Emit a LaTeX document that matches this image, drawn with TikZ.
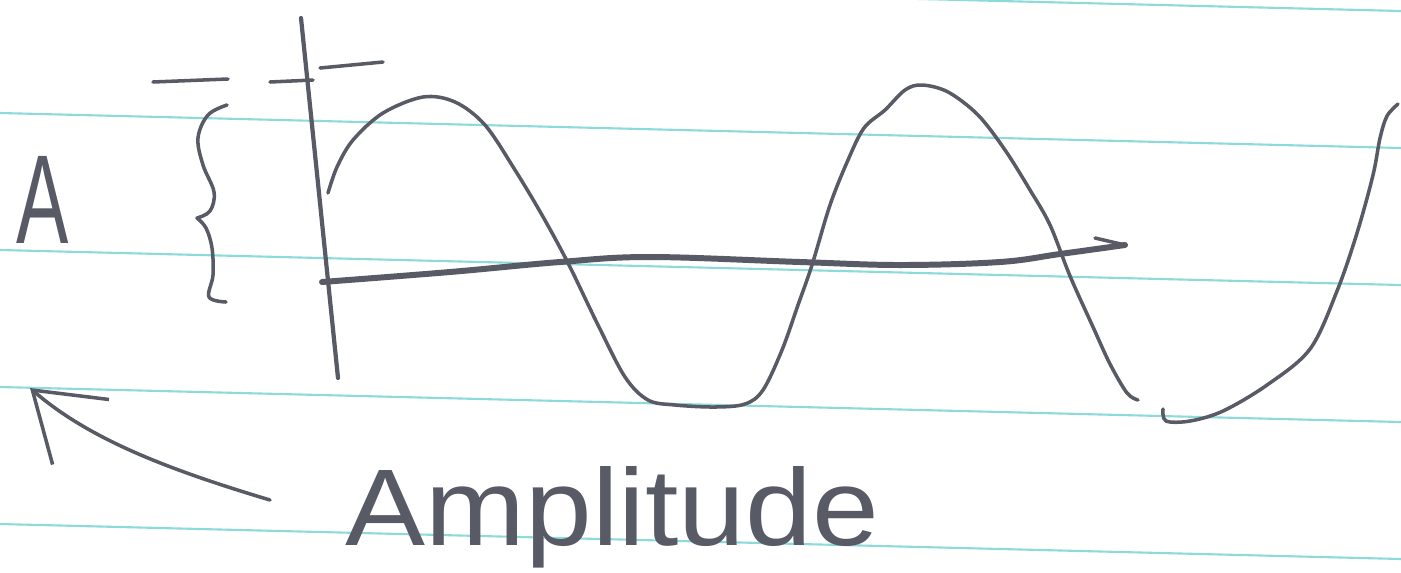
\documentclass[tikz,border=0pt]{standalone}
\usepackage{fontspec}
\setmainfont{Liberation Sans}
\usetikzlibrary{arrows.meta,positioning}
\definecolor{ink}{RGB}{88,90,102}
\definecolor{rule}{RGB}{140,218,218}

\begin{document}
\begin{tikzpicture}[
    x=0.01cm, y=-0.01cm,
    ruleline/.style={draw=rule, line width=0.6pt},
    pen/.style={draw=ink, line width=1pt, line cap=round, line join=round},
    axisline/.style={pen, line width=1.7pt},
    hand/.style={text=ink, inner sep=0pt, font=\fontsize{31}{34}\selectfont},
    arrow/.style={pen, -{Straight Barb[length=6.4mm, width=8.6mm]}}
]
\useasboundingbox (0,0) rectangle (1401,572);
\fill[white] (0,0) rectangle (1401,572);

% ruled paper
\foreach \k in {0,...,4}
  \draw[ruleline] (0,-24+137*\k) -- (1401,11+137*\k);

% axes
\coordinate (ytop) at (301,18);
\coordinate (ybot) at (338,378);
\draw[pen, line width=1.2pt] (ytop) -- (ybot);
\draw[axisline] plot[smooth, tension=0.6] coordinates {(322,282) (450,272) (560,262) (650,257) (800,262) (900,265) (1000,262) (1060,254) (1125,245)};
\draw[pen] (1125,245) -- (1095,238);

% top marks
\draw[pen] (153,82) -- (228,79);
\draw[pen] (270,82) -- (313,80);
\draw[pen] (320,68) -- (383,62);

% brace
\draw[pen] plot[smooth, tension=0.6] coordinates {(227,105) (208,115) (198,138) (203,165) (214,192) (210,211) (197,218)};
\draw[pen] plot[smooth, tension=0.6] coordinates {(197,218) (206,228) (212,248) (213,275) (209,297) (226,302)};

% the wave
\draw[pen] plot[smooth, tension=0.55] coordinates {(328,193) (337,167) (353,140) (383,113) (423,97) (455,102) (485,125) (515,170) (542,215) (568,263) (598,325) (625,377) (648,400) (675,405) (715,407) (745,404) (763,390) (782,350) (798,305) (812,265) (830,205) (848,160) (864,128) (885,110) (905,90) (922,85) (948,92) (978,115) (1005,150) (1030,190) (1050,225) (1070,276) (1093,327) (1110,364) (1127,393) (1138,400)};
\draw[pen] plot[smooth, tension=0.55] coordinates {(1163,409) (1166,421) (1190,421) (1223,411) (1267,385) (1310,349) (1337,291) (1357,233) (1373,175) (1380,138) (1387,116) (1398,104)};

% labels
\node[hand, anchor=base west, xscale=0.62, font=\fontsize{36}{40}\selectfont] (alabel) at (16,243) {A};
\node[hand, anchor=base west, xscale=1.1] (amptext) at (345,545) {Amplitude};

\coordinate (arrtail) at (270,500);
\coordinate (arrtip) at (30,388);
\draw[arrow] (arrtail) .. controls (170,470) and (90,440) .. (arrtip);
\end{tikzpicture}
\end{document}
